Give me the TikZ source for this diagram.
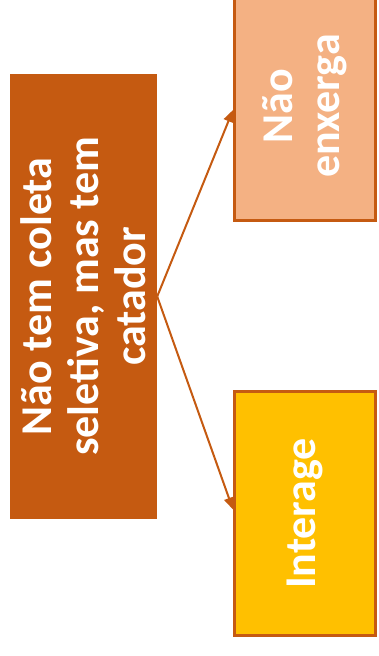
\documentclass[tikz,border=0pt]{standalone}
\usepackage{fontspec}
\setmainfont{Carlito}
\usetikzlibrary{arrows.meta}
\definecolor{rust}{HTML}{C55A11}
\definecolor{peach}{HTML}{F4B183}
\definecolor{amber}{HTML}{FFC000}
\tikzset{
  boxtext/.style={rotate=90, align=center, text=white,
    font=\fontsize{44}{47}\selectfont\bfseries, inner sep=0pt},
  srcbox/.style={boxtext, fill=rust},
  tgtbox/.style={boxtext, draw=rust, line width=3pt},
  link/.style={draw=rust, line width=2pt, -{Triangle[length=12pt,width=10pt]}}
}
\begin{document}
\begin{tikzpicture}[x=1pt,y=1pt]
\useasboundingbox (0,0) rectangle (378,656);
\clip (0,0) rectangle (378,656);
\node[srcbox, minimum width=445pt, minimum height=147pt] (src) at (83.5,359.5)
  {Não tem coleta\\seletiva, mas tem\\catador};
\node[tgtbox, fill=peach, minimum width=229pt, minimum height=141pt] (top) at (305,550)
  {Não\\enxerga};
\node[tgtbox, fill=amber, minimum width=244pt, minimum height=141pt] (bot) at (305,142.5)
  {Interage};
\coordinate (topin) at ([yshift=-4pt]top.north);
\coordinate (botin) at ([yshift=4pt]bot.north);
\draw[link] (src.south) -- (topin);
\draw[link] (src.south) -- (botin);
\end{tikzpicture}
\end{document}
